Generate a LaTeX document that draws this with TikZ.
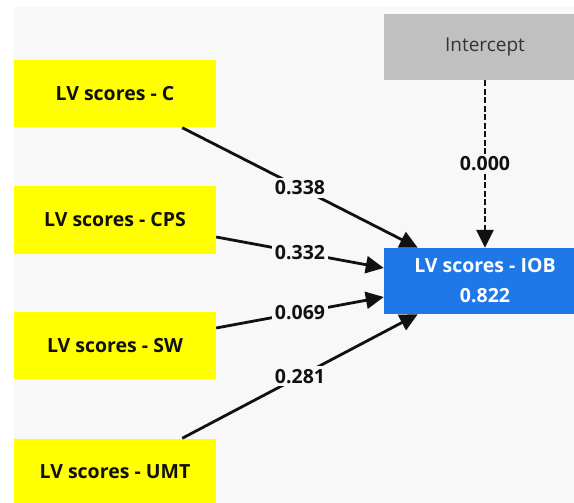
\documentclass[tikz,border=0pt]{standalone}
\usepackage{fontspec}
\setmainfont{Open Sans}
\usetikzlibrary{arrows.meta}
\definecolor{pagebg}{HTML}{F8F8F8}
\definecolor{lvyellow}{HTML}{FFFF00}
\definecolor{lvblue}{HTML}{1E78E8}
\definecolor{icgray}{HTML}{C0C0C0}
\definecolor{ink}{HTML}{111111}
\tikzset{
  lvbox/.style={rectangle, fill=lvyellow, minimum width=202pt, minimum height=67pt,
    inner sep=0pt, font=\fontsize{19.5}{21}\selectfont\bfseries, text=ink},
  icbox/.style={rectangle, fill=icgray, minimum width=202pt, minimum height=66pt,
    inner sep=0pt, font=\fontsize{19}{21}\selectfont, text=black!80},
  outbox/.style={rectangle, fill=lvblue, minimum width=202pt, minimum height=66pt,
    inner sep=0pt, font=\fontsize{19.5}{21}\selectfont\bfseries, text=white, align=center},
  path/.style={draw=ink, line width=2.8pt, -{Triangle[length=18pt,width=17pt]}},
  coef/.style={fill=pagebg, inner sep=3pt, font=\fontsize{19.5}{21}\selectfont\bfseries, text=ink},
}
\begin{document}
\begin{tikzpicture}[x=1pt, y=-1pt]
  \useasboundingbox (0,0) rectangle (574,503);
  \fill[white] (0,0) rectangle (574,503);
  \fill[pagebg] (14,7) rectangle (574,503);

  % predictor and outcome constructs
  \node[lvbox] (C)   at (115,94)    {LV scores - C};
  \node[lvbox] (CPS) at (115,220)   {LV scores - CPS};
  \node[lvbox] (SW)  at (115,345.5) {LV scores - SW};
  \node[lvbox] (UMT) at (115,472)   {LV scores - UMT};
  \node[icbox] (IC)  at (485,47)    {Intercept};
  \node[outbox] (IOB) at (485,281)  {LV scores - IOB\\[9pt]0.822};

  % path coefficients
  \draw[path] ([xshift=-34pt]C.south east) -- node[coef, pos=0.5] {0.338} ([xshift=34pt]IOB.north west);
  \draw[path] ([yshift=-17pt]CPS.east) -- node[coef, pos=0.5] {0.332} ([yshift=13pt]IOB.west);
  \draw[path] ([yshift=17.5pt]SW.east) -- node[coef, pos=0.5] {0.069} ([yshift=-16pt]IOB.west);
  \draw[path] ([xshift=-34pt]UMT.north east) -- node[coef, pos=0.5] {0.281} ([xshift=34pt]IOB.south west);
  \draw[path, dash pattern=on 6pt off 2.5pt] (IC.south) -- node[coef, pos=0.5] {0.000} (IOB.north);
\end{tikzpicture}
\end{document}
